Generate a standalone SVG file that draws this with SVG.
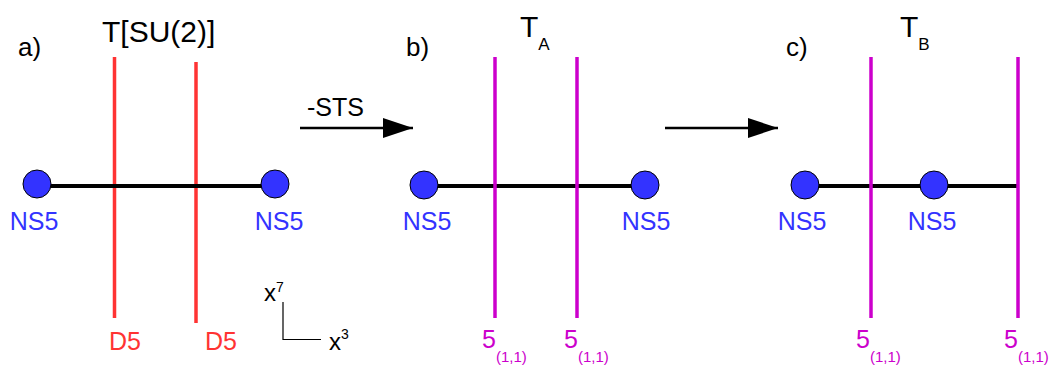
<svg xmlns="http://www.w3.org/2000/svg" width="1051" height="365" viewBox="0 0 1051 365">
<style>
text{font-family:"Liberation Sans",Arial,sans-serif;}
.lbl{font-size:26px;fill:#000;}
.ttl{font-size:30px;fill:#000;}
.sub{font-size:17px;}
.ns{font-size:25px;fill:#3333ff;text-anchor:middle;}
.d5{font-size:25px;fill:#ff3333;}
.f{font-size:25px;fill:#cc00cc;}
.fs{font-size:15px;fill:#cc00cc;}
.red{stroke:#ff3333;stroke-width:3.5;}
.mag{stroke:#cc00cc;stroke-width:3.5;}
.seg{stroke:#000;stroke-width:4;}
.dot{fill:#3333ff;stroke:#000;stroke-width:1;}
.arr{stroke:#000;stroke-width:2.5;fill:none;}
</style>
<defs>
<marker id="ah" markerWidth="30" markerHeight="20" refX="30" refY="10" markerUnits="userSpaceOnUse" orient="auto">
<path d="M0,0 L30,10 L0,20 Z" fill="#000"/>
</marker>
</defs>

<!-- Panel a -->
<g id="panel-a">
<text class="lbl" x="18" y="56">a)</text>
<text class="ttl" x="102" y="42">T[SU(2)]</text>
<line class="red" x1="114.5" y1="57" x2="114.5" y2="318"/>
<line class="red" x1="196" y1="62" x2="196" y2="323"/>
<line class="seg" x1="37" y1="186" x2="275" y2="186"/>
<g id="a-ns5-left"><circle class="dot" cx="37" cy="184" r="14"/><text class="ns" x="34" y="230">NS5</text></g>
<g id="a-ns5-right"><circle class="dot" cx="275" cy="184" r="14"/><text class="ns" x="279" y="230">NS5</text></g>
<g id="a-d5-1"><text class="d5" x="109" y="350">D5</text></g>
<g id="a-d5-2"><text class="d5" x="205" y="350">D5</text></g>
</g>

<!-- axes -->
<g id="axes">
<path d="M283,302 L283,339.5 L321,339.5" fill="none" stroke="#000" stroke-width="1.2"/>
<text x="264" y="301" style="font-size:24px">x<tspan dy="-9" style="font-size:14px">7</tspan></text>
<text x="329" y="350" style="font-size:24px">x<tspan dy="-11" style="font-size:14px">3</tspan></text>
</g>

<!-- Panel b -->
<g id="panel-b">
<text class="lbl" x="406" y="56">b)</text>
<text class="ttl" x="520" y="37">T<tspan class="sub" dy="13">A</tspan></text>
<line class="seg" x1="424" y1="186" x2="645" y2="186"/>
<line class="mag" x1="495" y1="57" x2="495" y2="318"/>
<line class="mag" x1="577" y1="57" x2="577" y2="318"/>
<g id="b-ns5-left"><circle class="dot" cx="424" cy="185" r="14"/><text class="ns" x="427" y="230">NS5</text></g>
<g id="b-ns5-right"><circle class="dot" cx="645" cy="185" r="14"/><text class="ns" x="646" y="230">NS5</text></g>
<g id="b-5-1"><text class="f" x="482" y="348">5<tspan class="fs" dy="14">(1,1)</tspan></text></g>
<g id="b-5-2"><text class="f" x="564" y="348">5<tspan class="fs" dy="14">(1,1)</tspan></text></g>
</g>

<!-- Panel c -->
<g id="panel-c">
<text class="lbl" x="786" y="56">c)</text>
<text class="ttl" x="900" y="37">T<tspan class="sub" dy="13">B</tspan></text>
<line class="seg" x1="805" y1="186" x2="1018" y2="186"/>
<line class="mag" x1="871" y1="57" x2="871" y2="318"/>
<line class="mag" x1="1018" y1="57" x2="1018" y2="318"/>
<g id="c-ns5-left"><circle class="dot" cx="805" cy="185" r="14"/><text class="ns" x="802" y="230">NS5</text></g>
<g id="c-ns5-mid"><circle class="dot" cx="934" cy="185" r="14"/><text class="ns" x="932" y="230">NS5</text></g>
<g id="c-5-1"><text class="f" x="856" y="348">5<tspan class="fs" dy="14">(1,1)</tspan></text></g>
<g id="c-5-2"><text class="f" x="1004" y="348">5<tspan class="fs" dy="14">(1,1)</tspan></text></g>
</g>

<!-- connectors -->
<g id="connectors">
<line class="arr" x1="300" y1="128" x2="413" y2="128" marker-end="url(#ah)"/>
<text x="307" y="116" style="font-size:25px">-STS</text>
<line class="arr" x1="665" y1="128" x2="778" y2="128" marker-end="url(#ah)"/>
</g>
</svg>
